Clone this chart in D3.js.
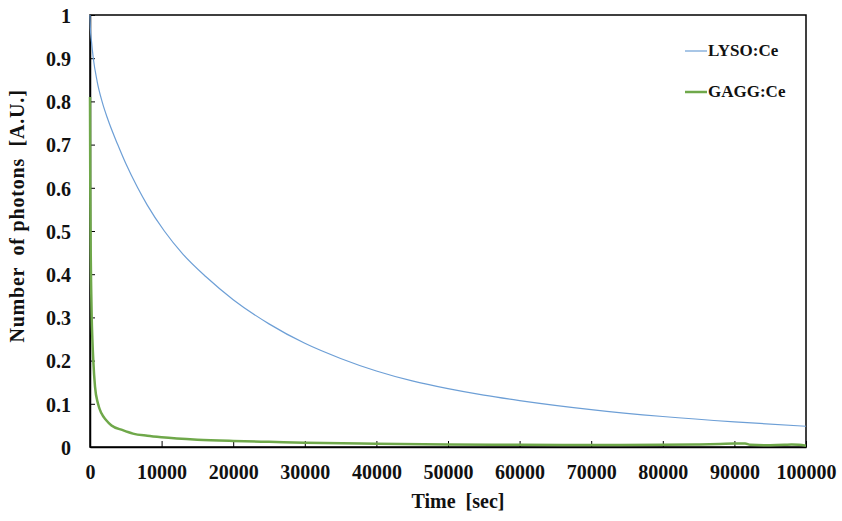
<!DOCTYPE html>
<html>
<head>
<meta charset="utf-8">
<script src="https://cdn.jsdelivr.net/npm/d3@7"></script>
<style>
  html, body { margin: 0; padding: 0; background: #fff; }
  svg { display: block; }
  text { font-family: "Liberation Serif", "Times New Roman", serif; font-weight: bold; fill: #111; white-space: pre; }
</style>
</head>
<body>
<svg id="chart" width="842" height="521"></svg>
<script>
// ---- data ----
const lysoTime  = [0, 50, 200, 460, 1000, 1680, 2500, 3870, 5000, 6660, 8000, 10380, 13000, 16200, 20000, 25000, 30000, 35000, 40000, 45000, 50000, 55000, 60000, 70000, 80000, 90000, 100000];
const lysoValue = [1.0, 0.97, 0.94, 0.9, 0.846, 0.8, 0.758, 0.7, 0.656, 0.6, 0.56, 0.5, 0.446, 0.394, 0.341, 0.285, 0.240, 0.205, 0.176, 0.153, 0.135, 0.120, 0.1075, 0.0866, 0.0706, 0.0581, 0.048];

const gaggTime  = [0, 40, 100, 160, 237, 330, 460, 700, 1120, 1600, 2235, 3000, 4570, 6000, 8000, 10000, 15000, 20000, 25000, 30000, 40000, 50000, 60000, 70000, 80000, 85000, 88000, 90000, 91500, 92200, 95000, 97000, 98000, 99000, 100000];
const gaggValue = [0.81, 0.6, 0.45, 0.37, 0.3, 0.25, 0.2, 0.14, 0.1, 0.078, 0.0625, 0.05, 0.039, 0.031, 0.026, 0.0225, 0.017, 0.014, 0.012, 0.010, 0.0075, 0.006, 0.005, 0.0045, 0.005, 0.006, 0.007, 0.008, 0.008, 0.005, 0.004, 0.005, 0.006, 0.005, 0.003];

const xTicks = [0, 10000, 20000, 30000, 40000, 50000, 60000, 70000, 80000, 90000, 100000];
const yTicks = [0, 0.1, 0.2, 0.3, 0.4, 0.5, 0.6, 0.7, 0.8, 0.9, 1];
const seriesNames = ["LYSO:Ce", "GAGG:Ce"];
const seriesColors = ["#6d9fd6", "#6fa84a"];
const xTitle = "Time  [sec]";
const yTitle = "Number  of photons  [A.U.]";

// ---- layout ----
const svg = d3.select("#chart");
const L = 90, R = 806, T = 15, B = 447;

const x = d3.scaleLinear().domain([0, 100000]).range([L, R]);
const y = d3.scaleLinear().domain([0, 1]).range([B, T]);

// frame
svg.append("rect").attr("x", L).attr("y", T).attr("width", R - L).attr("height", B - T)
  .attr("fill", "none").attr("stroke", "#000").attr("stroke-width", 1.5);

const tickFont = sel => sel.style("font-size", "20px")
  .style("font-family", "'Liberation Serif', serif").style("font-weight", "bold").attr("fill", "#111");

// x axis (ticks inward)
const xAxis = svg.append("g").attr("transform", `translate(0,${B})`)
  .call(d3.axisBottom(x).tickValues(xTicks).tickSizeInner(-6).tickSizeOuter(0).tickFormat(d3.format("d")));
xAxis.select(".domain").attr("stroke", "#000").attr("stroke-width", 1.5);
xAxis.selectAll(".tick line").attr("stroke", "#000").attr("stroke-width", 1);
xAxis.selectAll(".tick text").attr("y", 32).attr("dy", 0).call(tickFont);

// y axis
const yAxis = svg.append("g").attr("transform", `translate(${L},0)`)
  .call(d3.axisLeft(y).tickValues(yTicks).tickSizeInner(-5).tickSizeOuter(0).tickFormat(d => d3.format("")(+d.toFixed(1))));
yAxis.select(".domain").attr("stroke", "#000").attr("stroke-width", 1.5);
yAxis.selectAll(".tick line").attr("stroke", "#000").attr("stroke-width", 1);
yAxis.selectAll(".tick text").attr("x", -19).attr("dy", "0.36em").call(tickFont);

// lines (drawn over the axes, as in the original)
const line = d3.line().x(d => x(d[0])).y(d => y(d[1])).curve(d3.curveMonotoneX);
const lyso = lysoTime.map((t, i) => [t, lysoValue[i]]);
const gagg = gaggTime.map((t, i) => [t, gaggValue[i]]);

svg.append("path").datum(gagg).attr("d", line).attr("fill", "none")
  .attr("stroke", seriesColors[1]).attr("stroke-width", 2.5);
svg.append("path").datum(lyso).attr("d", line).attr("fill", "none")
  .attr("stroke", seriesColors[0]).attr("stroke-width", 1.2);

// legend
const legY = [51, 92];
seriesNames.forEach((name, i) => {
  svg.append("line").attr("x1", 685).attr("x2", 707).attr("y1", legY[i]).attr("y2", legY[i])
    .attr("stroke", seriesColors[i]).attr("stroke-width", i === 1 ? 2.5 : 1.2);
  svg.append("text").attr("x", 708).attr("y", legY[i] + 5).style("font-size", "17px").text(name);
});

// axis titles
svg.append("text").attr("x", 458).attr("y", 508).attr("text-anchor", "middle")
  .style("font-size", "20px").text(xTitle);
svg.append("text").attr("transform", "translate(24,216) rotate(-90)").attr("text-anchor", "middle")
  .style("font-size", "20px").style("letter-spacing", "0.8px").text(yTitle);
</script>
</body>
</html>
